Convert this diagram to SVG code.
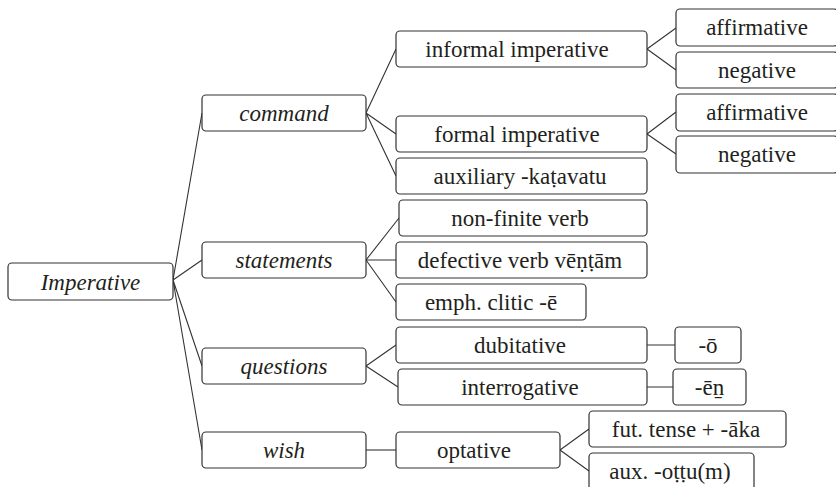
<svg xmlns="http://www.w3.org/2000/svg" width="836" height="487" viewBox="0 0 836 487">
<style>
.b{fill:#fff;stroke:#333;stroke-width:1.2}
.t{font-family:"Liberation Serif","Times New Roman",serif;font-size:23px;fill:#231f20;text-anchor:middle}
.i{font-style:italic}
.c{stroke:#333;stroke-width:1.1;fill:none}
</style>
<rect width="836" height="487" fill="#fff"/>
<g id="connectors">
<path class="c" d="M173,280 L202,113 M173,280 L202,260 M173,280 L202,366 M173,280 L202,450"/>
<path class="c" d="M366,113 L396,49 M366,113 L396,134 M366,113 L396,176"/>
<path class="c" d="M366,260 L399,218 M366,260 L396,260 M366,260 L396,302"/>
<path class="c" d="M366,366 L396,345 M366,366 L398,387"/>
<path class="c" d="M366,450 L396,450"/>
<path class="c" d="M647,49 L676,28 M647,49 L676,70 M647,134 L676,112 M647,134 L676,154"/>
<path class="c" d="M647,345 L675,345 M647,387 L673,387"/>
<path class="c" d="M560,450 L589,429 M560,450 L589,471"/>
</g>
<g id="imperative"><rect class="b" x="8" y="263" width="165" height="37" rx="4"/><text class="t i" x="90.5" y="290">Imperative</text></g>
<g id="command"><rect class="b" x="202" y="95" width="164" height="36" rx="4"/><text class="t i" x="284" y="121">command</text></g>
<g id="statements"><rect class="b" x="202" y="242" width="164" height="36" rx="4"/><text class="t i" x="284" y="268">statements</text></g>
<g id="questions"><rect class="b" x="202" y="348" width="164" height="36" rx="4"/><text class="t i" x="284" y="374">questions</text></g>
<g id="wish"><rect class="b" x="202" y="432" width="164" height="36" rx="4"/><text class="t i" x="284" y="458">wish</text></g>
<g id="informal"><rect class="b" x="396" y="31" width="251" height="36" rx="4"/><text class="t" x="517" y="57">informal imperative</text></g>
<g id="formal"><rect class="b" x="396" y="116" width="251" height="36" rx="4"/><text class="t" x="517" y="142">formal imperative</text></g>
<g id="auxiliary"><rect class="b" x="396" y="158" width="251" height="36" rx="4"/><text class="t" x="520" y="184">auxiliary -kaṭavatu</text></g>
<g id="nonfinite"><rect class="b" x="399" y="200" width="248" height="36" rx="4"/><text class="t" x="520" y="226">non-finite verb</text></g>
<g id="defective"><rect class="b" x="396" y="242" width="251" height="36" rx="4"/><text class="t" x="520" y="268">defective verb vēṇṭām</text></g>
<g id="emph"><rect class="b" x="396" y="284" width="190" height="36" rx="4"/><text class="t" x="491" y="310">emph. clitic -ē</text></g>
<g id="dubitative"><rect class="b" x="396" y="327" width="251" height="36" rx="4"/><text class="t" x="520" y="353">dubitative</text></g>
<g id="interrogative"><rect class="b" x="398" y="369" width="249" height="36" rx="4"/><text class="t" x="520" y="395">interrogative</text></g>
<g id="optative"><rect class="b" x="396" y="432" width="164" height="36" rx="4"/><text class="t" x="474" y="458">optative</text></g>
<g id="aff1"><rect class="b" x="676" y="9" width="162" height="37" rx="4"/><text class="t" x="757" y="35">affirmative</text></g>
<g id="neg1"><rect class="b" x="676" y="52" width="162" height="36" rx="4"/><text class="t" x="757" y="78">negative</text></g>
<g id="aff2"><rect class="b" x="676" y="94" width="162" height="37" rx="4"/><text class="t" x="757" y="120">affirmative</text></g>
<g id="neg2"><rect class="b" x="676" y="136" width="162" height="37" rx="4"/><text class="t" x="757" y="162">negative</text></g>
<g id="o"><rect class="b" x="675" y="327" width="66" height="36" rx="4"/><text class="t" x="708" y="353">-ō</text></g>
<g id="en"><rect class="b" x="673" y="369" width="73" height="36" rx="4"/><text class="t" x="709.5" y="395">-ēn̠</text></g>
<g id="fut"><rect class="b" x="589" y="411" width="197" height="36" rx="4"/><text class="t" x="686" y="437">fut. tense + -āka</text></g>
<g id="auxottu"><rect class="b" x="589" y="453" width="165" height="37" rx="4"/><text class="t" x="670" y="479">aux. -oṭṭu(m)</text></g>
</svg>
